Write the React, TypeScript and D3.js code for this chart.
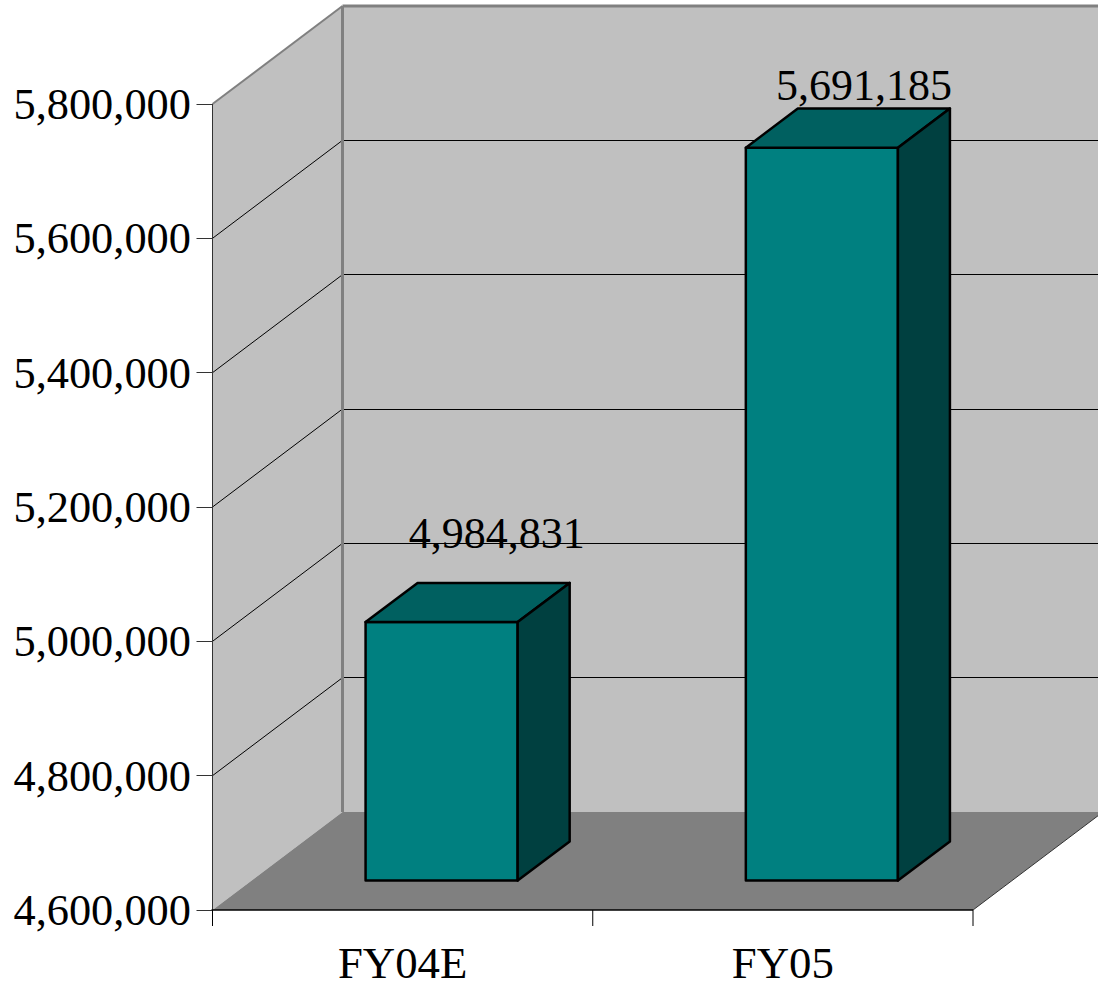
import React from "react";
import { scaleBand, scaleLinear, format, range } from "d3";

const categories = ["FY04E", "FY05"];
const values = [4984831, 5691185];
const yTicks = [4600000, 4800000, 5000000, 5200000, 5400000, 5600000, 5800000];
const labelNudge = [
  [55, -74],
  [42, -48],
];

const FONT = "'Liberation Serif', 'Times New Roman', serif";
const fontSize = 44.8;
const valueFontSize = 44;
const tickFontSize = 44.4;

const x0 = 212.5;
const x1 = 973;
const yBase = 910;
const yTop = 104;
// how far the back wall sits behind the front plane
const depthX = 130;
const depthY = 98;

const y = scaleLinear().domain([4600000, 5800000]).range([yBase, yTop]);
const x = scaleBand().domain(categories).range([x0, x1]);
const fmt = format(",");

const poly = (pts: number[][]) => pts.map((p) => p.join(",")).join(" ");
const crisp = (v: number) => Math.floor(v) + 0.5;

const Bar = ({ cat, value, nudge }) => {
  const barW = x.bandwidth() * 0.4;
  const left = x(cat) + (x.bandwidth() - barW) / 2 + depthX * 0.3;
  const right = left + barW;
  const shiftY = depthY * 0.3;
  const bottom = yBase - shiftY;
  const top = y(value) - shiftY;
  const dx = depthX * 0.4;
  const dy = depthY * 0.4;
  const common = { stroke: "#000", strokeWidth: 2.5, strokeLinejoin: "round" as const };
  return (
    <g>
      <rect x={left} y={top} width={barW} height={bottom - top} fill="#008080" {...common} />
      <polygon
        points={poly([
          [left, top],
          [left + dx, top - dy],
          [right + dx, top - dy],
          [right, top],
        ])}
        fill="#006060"
        {...common}
      />
      <polygon
        points={poly([
          [right, top],
          [right + dx, top - dy],
          [right + dx, bottom - dy],
          [right, bottom],
        ])}
        fill="#004040"
        {...common}
      />
      <text
        x={left + barW / 2 + nudge[0]}
        y={top + nudge[1]}
        textAnchor="middle"
        fontFamily={FONT}
        fontSize={valueFontSize}
        fill="#000"
      >
        {fmt(value)}
      </text>
    </g>
  );
};

export default function App() {
  const backTop = y(5800000) - depthY;
  const backBottom = yBase - depthY;
  return (
    <svg
      width={1098}
      height={988}
      style={{ position: "absolute", left: 0, top: 0, background: "#fff" }}
    >
      {/* walls and floor */}
      <polygon
        points={poly([
          [x0, yTop],
          [x0 + depthX, backTop],
          [x0 + depthX, backBottom],
          [x0, yBase],
        ])}
        fill="#c0c0c0"
      />
      <rect
        x={x0 + depthX}
        y={backTop}
        width={x1 - x0}
        height={backBottom - backTop}
        fill="#c0c0c0"
      />
      <polygon
        points={poly([
          [x0, yBase],
          [x0 + depthX, backBottom],
          [x1 + depthX, backBottom],
          [x1, yBase],
        ])}
        fill="#808080"
      />
      <line x1={x1} y1={yBase} x2={x1 + depthX} y2={backBottom} stroke="#333" strokeWidth={1} />

      {/* gridlines */}
      {yTicks.slice(1, -1).map((t) => (
        <g key={t} stroke="#000" strokeWidth={1} fill="none">
          <line x1={x0} y1={y(t)} x2={x0 + depthX} y2={y(t) - depthY} />
          <line
            x1={x0 + depthX}
            y1={crisp(y(t) - depthY)}
            x2={x1 + depthX}
            y2={crisp(y(t) - depthY)}
          />
        </g>
      ))}

      {/* wall edges */}
      <g stroke="#808080" fill="none">
        <line x1={x0} y1={yTop} x2={x0 + depthX} y2={backTop} strokeWidth={2} />
        <line x1={x0 + depthX} y1={backTop} x2={x1 + depthX} y2={backTop} strokeWidth={3} />
        <line x1={x0 + depthX} y1={backTop} x2={x0 + depthX} y2={backBottom} strokeWidth={3} />
      </g>

      {/* axes */}
      <line x1={x0} y1={yTop} x2={x0} y2={yBase} stroke="#333" strokeWidth={1} />
      <line x1={x0 - 1} y1={yBase} x2={x1} y2={yBase} stroke="#000" strokeWidth={1.5} />
      {yTicks.map((t) => (
        <g key={t}>
          <line x1={x0 - 16} y1={crisp(y(t))} x2={x0} y2={crisp(y(t))} stroke="#333" strokeWidth={1} />
          <text
            x={x0 - 21.5}
            y={y(t) + 15}
            textAnchor="end"
            fontFamily={FONT}
            fontSize={tickFontSize}
            fill="#000"
          >
            {fmt(t)}
          </text>
        </g>
      ))}
      {range(categories.length + 1).map((i) => {
        const tx = x0 + i * x.step();
        return <line key={i} x1={tx} y1={yBase} x2={tx} y2={yBase + 16} stroke="#000" strokeWidth={1} />;
      })}
      {categories.map((c) => (
        <text
          key={c}
          x={x(c) + x.bandwidth() / 2}
          y={978}
          textAnchor="middle"
          fontFamily={FONT}
          fontSize={fontSize}
          fill="#000"
        >
          {c}
        </text>
      ))}

      {categories.map((c, i) => (
        <Bar key={c} cat={c} value={values[i]} nudge={labelNudge[i]} />
      ))}
    </svg>
  );
}
